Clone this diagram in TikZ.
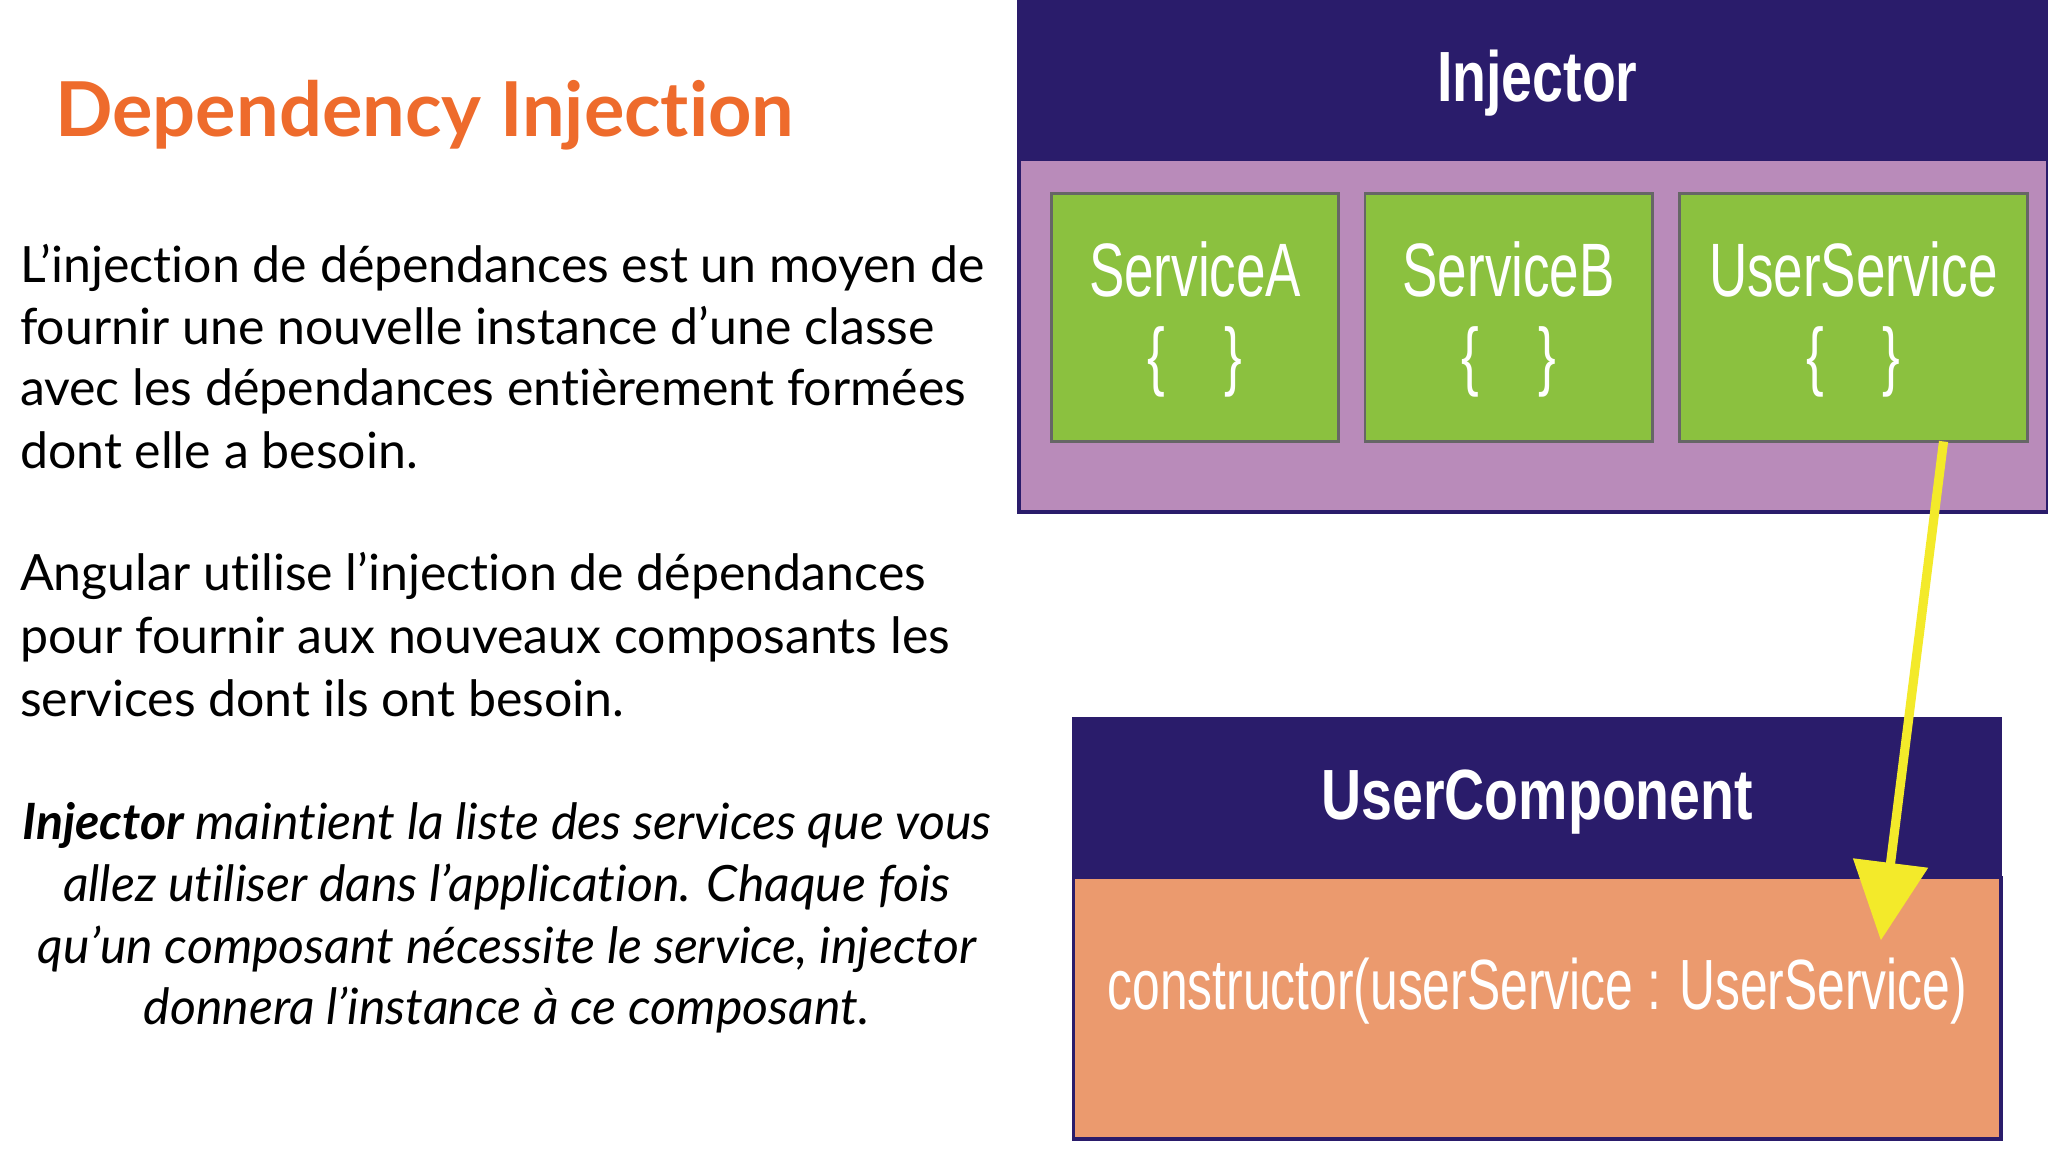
\documentclass[tikz,border=0pt]{standalone}
\usepackage{fontspec}
\defaultfontfeatures{}
\setmainfont{Lato}[Ligatures={NoCommon}]
\newfontfamily\cond{Liberation Sans}
\definecolor{orng}{HTML}{EE6B2C}
\definecolor{navy}{HTML}{2A1C6B}
\definecolor{lilac}{HTML}{B98BBA}
\definecolor{grn}{HTML}{8BC13F}
\definecolor{salmon}{HTML}{EB9A6E}
\definecolor{ylw}{HTML}{F3EA2A}
\usetikzlibrary{arrows.meta}
\tikzset{
 body/.style={anchor=mid west,inner sep=0,font=\fontsize{21.8}{26}\selectfont},
 ital/.style={anchor=mid,inner sep=0,font=\fontsize{21.8}{26}\selectfont\itshape},
 svc/.style={draw=black!60,line width=1.2pt,fill=grn},
 svct/.style={text=white,font=\cond\fontsize{33}{34}\selectfont,xscale=0.7,inner sep=0},
}
\begin{document}
\begin{tikzpicture}[x=0.02cm,y=-0.02cm]
\useasboundingbox (0,0) rectangle (1568,882);
\node[anchor=mid west,inner sep=0,text=orng,font=\fontsize{33}{36}\selectfont\bfseries] (title) at (42,100) {Dependency Injection};
\node[body] (p1) at (15,212) {L'injection de dépendances est un moyen de};
\node[body] (p2) at (15,259) {fournir une nouvelle instance d'une classe};
\node[body] (p3) at (15,306) {avec les dépendances entièrement formées};
\node[body] (p4) at (15,354) {dont elle a besoin.};
\node[body] (q1) at (15,448) {Angular utilise l'injection de dépendances};
\node[body] (q2) at (15,496) {pour fournir aux nouveaux composants les};
\node[body] (q3) at (15,544) {services dont ils ont besoin.};
\node[ital] (r1) at (388,638) {\textbf{Injector} maintient la liste des services que vous};
\node[ital] (r2) at (388,686) {allez utiliser dans l'application. Chaque fois};
\node[ital] (r3) at (388,733) {qu'un composant nécessite le service, injector};
\node[ital] (r4) at (388,780) {donnera l'instance à ce composant.};
% injector
\fill[navy] (779,0) rectangle (1568,122);
\draw[navy,line width=1.5pt,fill=lilac] (780,122) rectangle (1568,392);
\node[text=white,font=\cond\bfseries\fontsize{31}{32}\selectfont,xscale=0.78] (inj) at (1177,64) {Injector};
\draw[svc] (805,148) rectangle (1025,338);
\draw[svc] (1045,148) rectangle (1265,338);
\draw[svc] (1286,148) rectangle (1552,338);
\node[svct] (sa) at (915,206) {ServiceA};
\node[svct] (sb) at (1155,206) {ServiceB};
\node[svct] (su) at (1419,206) {UserService};
\node[svct] (ba) at (915,277) {\{\ \ \ \ \}};
\node[svct] (bb) at (1155,277) {\{\ \ \ \ \}};
\node[svct] (bu) at (1419,277) {\{\ \ \ \ \}};
% user component
\fill[navy] (821,549) rectangle (1533,672);
\draw[navy,line width=1.5pt,fill=salmon] (822,672) rectangle (1532,872);
\node[text=white,font=\cond\bfseries\fontsize{31}{32}\selectfont,xscale=0.78] (uc) at (1177,614) {UserComponent};
\node[text=white,font=\cond\fontsize{31}{32}\selectfont,xscale=0.7] (ctor) at (1177,759) {constructor(userService : UserService)};
\coordinate (s) at (1488,338);
\coordinate (e) at (1440,720);
\draw[ylw,line width=4pt,-{Triangle[length=34pt,width=32pt]}] (s) -- (e);
\end{tikzpicture}
\end{document}
